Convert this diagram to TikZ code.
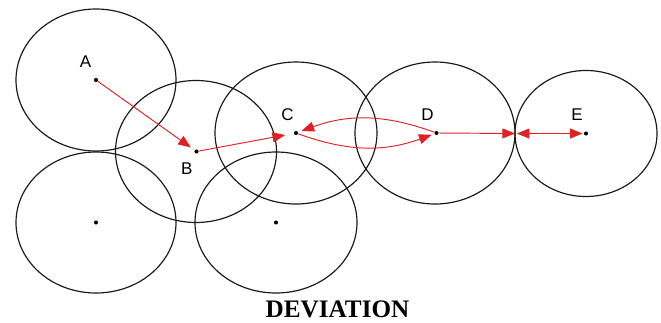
\documentclass[tikz,border=0pt]{standalone}
\usepackage{fontspec}
\setmainfont{Liberation Serif}
\newfontfamily\labelfont{Liberation Sans}
\usetikzlibrary{arrows.meta, calc}
\definecolor{linkred}{RGB}{225,32,36}

\begin{document}
\begin{tikzpicture}[x=0.03cm, y=-0.03cm, >={Triangle[length=3.8mm, width=3mm]},
    dot/.style={circle, fill=black, inner sep=0pt, minimum size=3.5pt},
    rangering/.style={draw=black!90, line width=1pt},
    link/.style={->, draw=linkred, line width=0.8pt},
    every node/.style={font=\labelfont\fontsize{14.5}{16}\selectfont}]
  \useasboundingbox (0,0) rectangle (661,322);
  % radio ranges
  \draw[rangering] (96,80) ellipse [x radius=80, y radius=71];
  \draw[rangering] (96,222.5) ellipse [x radius=80, y radius=70.5];
  \draw[rangering] (196,151.5) ellipse [x radius=80.5, y radius=71];
  \draw[rangering] (296,133) ellipse [x radius=81, y radius=71];
  \draw[rangering] (276,222.5) ellipse [x radius=81, y radius=70.5];
  \draw[rangering] (435,133) ellipse [x radius=80, y radius=71];
  \draw[rangering] (586,133.5) ellipse [x radius=71, y radius=63];
  % sensor nodes
  \node[dot] (A) at (96,80) {};
  \node[dot] (B) at (196.5,151.5) {};
  \node[dot] (C) at (296,133) {};
  \node[dot] (D) at (436.5,133) {};
  \node[dot] (E) at (586,133.5) {};
  \node[dot] (F) at (96,222.5) {};
  \node[dot] (G) at (276,222.5) {};
  \coordinate (rim) at (515,133.5);
  % names
  \node (labA) at (85.5,62) {A};
  \node (labB) at (186.7,168.3) {B};
  \node (labC) at (287.5,115) {C};
  \node (labD) at (427.5,115) {D};
  \node (labE) at (577,115) {E};
  % route
  \draw[link, shorten >=4pt] (A) -- (B);
  \draw[link, shorten >=7.5pt] (B) -- (C);
  \draw[link, shorten >=3pt] (D) to[bend right=20] (C);
  \draw[link, shorten >=2.5pt] (C) to[bend right=20] (D);
  \draw[link] (D) -- (rim);
  \draw[link, <->, shorten <=1.5pt, shorten >=1pt] (rim) -- (E);
  \node[font=\rmfamily\bfseries\fontsize{21.5}{25}\selectfont, anchor=base] (title) at (337.5,317.7) {DEVIATION};
\end{tikzpicture}
\end{document}
